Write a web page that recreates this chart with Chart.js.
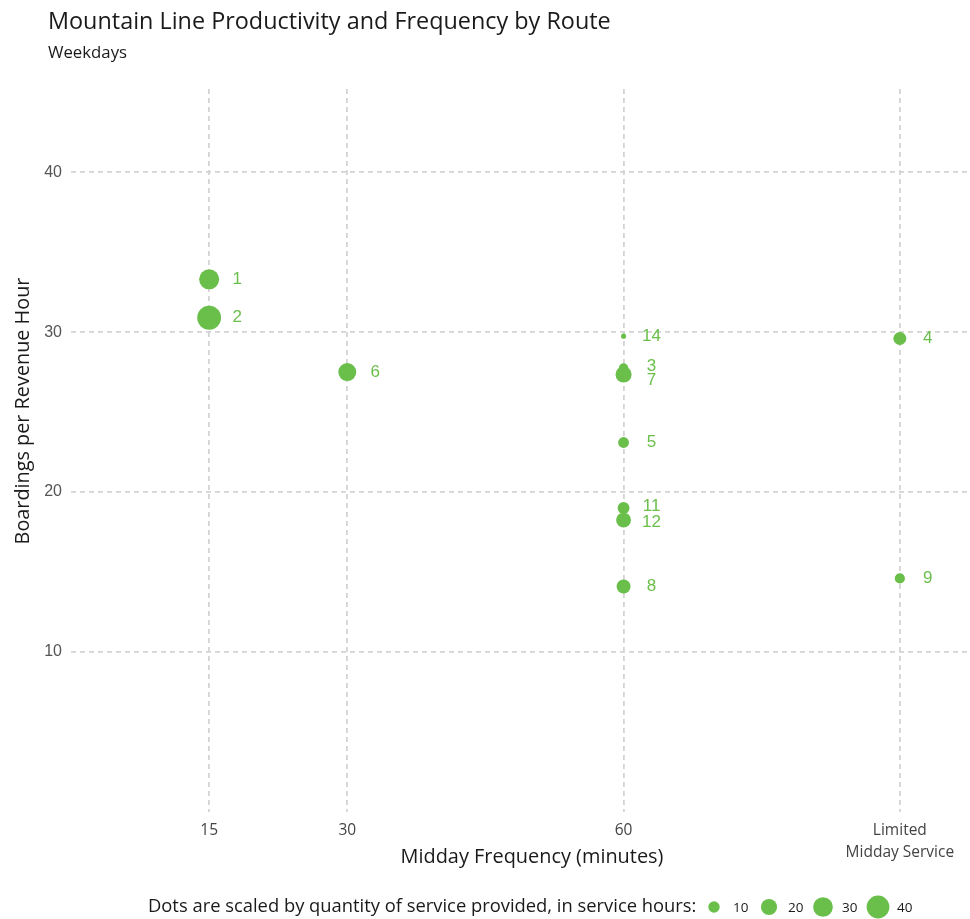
<!DOCTYPE html>
<html>
<head>
<meta charset="utf-8">
<script src="https://cdn.jsdelivr.net/npm/chart.js@4"></script>
<style>
  html, body { margin: 0; padding: 0; background: #fff; overflow: hidden; }
  canvas { display: block; }
</style>
</head>
<body>
<canvas id="myChart" width="970" height="919"></canvas>
<script>
// route data
const routes    = ['1', '2', '6', '14', '3', '7', '5', '11', '12', '8', '4', '9'];
const frequency = [15, 15, 30, 60, 60, 60, 60, 60, 60, 60, 90, 90]; // 90 = limited midday service
const boardings = [33.3, 30.9, 27.5, 29.75, 27.75, 27.35, 23.1, 19.0, 18.25, 14.1, 29.6, 14.6];
const hours     = [31, 44, 25, 2, 7, 20, 9, 11, 17, 15, 13, 8];

const xTickValues = [15, 30, 60, 90];
const xTickLabels = ['15', '30', '60', ['Limited', 'Midday Service']];
const yTickValues = [10, 20, 30, 40];
const legendHours = [10, 20, 30, 40];

const green     = '#6abf4b';
const gridColor = '#d4d4d4';
const tickGray  = '#555555';
const textDark  = '#1a1a1a';
const sans      = '"Open Sans", sans-serif';

function radius(h) { return 1.8 * Math.sqrt(h); }

// font size that makes text span a given width
function fitFont(ctx, text, width, family) {
    ctx.font = '20px ' + family;
    const size = 20 * width / ctx.measureText(text).width;
    ctx.font = size.toFixed(2) + 'px ' + family;
}

// small label nudges where labels were repelled apart
const labelNudge = { '3': -2, '7': 6, '11': -2, '12': 2 };

const extras = {
    id: 'extras',
    afterDatasetsDraw(chart) {
        const ctx = chart.ctx;
        const meta = chart.getDatasetMeta(0);
        ctx.save();
        ctx.fillStyle = green;
        ctx.font = '17px "Liberation Sans", Arial, sans-serif';
        ctx.textAlign = 'center';
        ctx.textBaseline = 'middle';
        meta.data.forEach((pt, i) => {
            const dy = labelNudge[routes[i]] || 0;
            ctx.fillText(routes[i], pt.x + 28, pt.y + dy);
        });
        ctx.restore();
    },
    afterDraw(chart) {
        const ctx = chart.ctx;
        ctx.save();
        ctx.fillStyle = textDark;
        ctx.textBaseline = 'middle';
        ctx.textAlign = 'left';
        let t = 'Mountain Line Productivity and Frequency by Route';
        fitFont(ctx, t, 563, sans);
        ctx.fillText(t, 48, 22);
        fitFont(ctx, 'Weekdays', 79, sans);
        ctx.fillText('Weekdays', 48, 53);

        // axis titles
        ctx.textAlign = 'center';
        t = 'Midday Frequency (minutes)';
        fitFont(ctx, t, 263, sans);
        ctx.fillText(t, 532, 857);
        ctx.save();
        ctx.translate(23, 411);
        ctx.rotate(-Math.PI / 2);
        t = 'Boardings per Revenue Hour';
        fitFont(ctx, t, 267, sans);
        ctx.fillText(t, 0, 0);
        ctx.restore();

        // size legend
        ctx.textAlign = 'left';
        t = 'Dots are scaled by quantity of service provided, in service hours:';
        fitFont(ctx, t, 549, sans);
        ctx.fillText(t, 148, 907);
        const dotX = [714, 769, 823, 878];
        ctx.font = '13.5px ' + sans;
        legendHours.forEach((h, i) => {
            ctx.fillStyle = green;
            ctx.beginPath();
            ctx.arc(dotX[i], 907, radius(h), 0, Math.PI * 2);
            ctx.fill();
            ctx.fillStyle = textDark;
            ctx.fillText(String(h), dotX[i] + 19, 908);
        });
        ctx.restore();
    }
};

const ctx = document.getElementById('myChart');
new Chart(ctx, {
    type: 'bubble',
    data: {
        datasets: [{
            data: routes.map((r, i) => ({ x: frequency[i], y: boardings[i], r: radius(hours[i]) })),
            backgroundColor: green,
            borderColor: green,
            borderWidth: 0,
            hoverRadius: 0
        }]
    },
    options: {
        responsive: false,
        animation: false,
        events: [],
        layout: { autoPadding: false, padding: { top: 89, right: 2, bottom: 49, left: 0 } },
        plugins: {
            legend: { display: false },
            tooltip: { enabled: false }
        },
        scales: {
            x: {
                type: 'linear',
                min: 0,
                max: 97.4,
                afterBuildTicks: (axis) => { axis.ticks = xTickValues.map(v => ({ value: v })); },
                afterFit: (axis) => {
                    axis.height = 58;
                    axis.paddingLeft = 0;
                    axis.paddingRight = 0;
                },
                grid: {
                    color: gridColor,
                    lineWidth: 1.8,
                    drawTicks: false,
                    tickLength: 0
                },
                border: { display: false, dash: [5, 4] },
                ticks: {
                    color: '#444444',
                    padding: 8,
                    maxRotation: 0,
                    autoSkip: false,
                    font: { family: 'Open Sans', size: 15.5, lineHeight: 1.42 },
                    callback: (v) => {
                        const i = xTickValues.indexOf(v);
                        return i >= 0 ? xTickLabels[i] : '';
                    }
                }
            },
            y: {
                min: 0,
                max: 45.2,
                afterBuildTicks: (axis) => { axis.ticks = yTickValues.map(v => ({ value: v })); },
                afterFit: (axis) => {
                    axis.width = 71;
                    axis.paddingTop = 0;
                    axis.paddingBottom = 0;
                },
                grid: {
                    color: gridColor,
                    lineWidth: 1.8,
                    drawTicks: false,
                    tickLength: 0
                },
                border: { display: false, dash: [5, 4] },
                ticks: {
                    color: tickGray,
                    padding: 9,
                    font: { family: 'Liberation Sans', size: 16 }
                }
            }
        }
    },
    plugins: [extras]
});
</script>
</body>
</html>
